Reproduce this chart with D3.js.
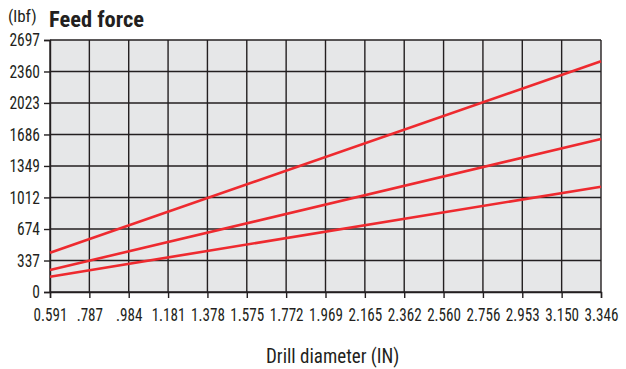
<!DOCTYPE html>
<html>
<head>
<meta charset="utf-8">
<script src="https://cdn.jsdelivr.net/npm/d3@7"></script>
<style>
  html, body { margin: 0; padding: 0; background: #fff; }
  svg { display: block; }
  text { font-family: "Liberation Sans Narrow", "Roboto Condensed", "Arial Narrow", "Liberation Sans", sans-serif; fill: #231f20; }
</style>
</head>
<body>
<svg id="chart" width="626" height="369"></svg>
<script>
// Drill diameter ticks (inches) and their printed labels
const xTicks = [0.591, 0.787, 0.984, 1.181, 1.378, 1.575, 1.772, 1.969, 2.165, 2.362, 2.560, 2.756, 2.953, 3.150, 3.346];
const xTickLabels = ["0.591", ".787", ".984", "1.181", "1.378", "1.575", "1.772", "1.969", "2.165", "2.362", "2.560", "2.756", "2.953", "3.150", "3.346"];
// Feed force ticks (lbf)
const yTicks = [0, 337, 674, 1012, 1349, 1686, 2023, 2360, 2697];

// Feed force lines: [diameter, force]
const lineHigh = [[0.591, 421], [3.346, 2470]];
const lineMid = [[0.591, 235], [3.346, 1637]];
const lineLow = [[0.591, 164], [3.346, 1127]];
const series = [lineHigh, lineMid, lineLow];

const FONT = "'Liberation Sans Narrow', 'Roboto Condensed', 'Arial Narrow', sans-serif";
const svg = d3.select("#chart");
const m = { left: 50, right: 601, top: 40, bottom: 292 };

// Squeeze text horizontally for a tighter condensed look
function condense(sel, factor) {
  sel.each(function () {
    const w = this.getComputedTextLength();
    d3.select(this).attr("textLength", w * factor).attr("lengthAdjust", "spacingAndGlyphs");
  });
}

// Ticks are evenly spaced, so position by index
const xIdx = d3.scaleLinear().domain([0, xTicks.length - 1]).range([m.left, m.right]);
const x = d3.scaleLinear().domain(xTicks).range(xTicks.map((d, i) => xIdx(i)));
const y = d3.scaleLinear().domain([0, 2697]).range([m.bottom, m.top]);

// Plot background
svg.append("rect")
  .attr("x", m.left).attr("y", m.top)
  .attr("width", m.right - m.left).attr("height", m.bottom - m.top)
  .attr("fill", "#e6e7e8");

// Grid
const grid = svg.append("g").attr("stroke", "#231f20").attr("stroke-width", 1.4);
grid.selectAll("line.v").data(xTicks).join("line")
  .attr("x1", d => x(d)).attr("x2", d => x(d))
  .attr("y1", m.top).attr("y2", m.bottom);
grid.selectAll("line.h").data(yTicks).join("line")
  .attr("x1", m.left).attr("x2", m.right)
  .attr("y1", d => y(d)).attr("y2", d => y(d));

// Axes
const yAxis = d3.axisLeft(y).tickValues(yTicks).tickSize(6).tickPadding(4).tickFormat(d3.format("d"));
const gy = svg.append("g").attr("transform", `translate(${m.left},0)`).call(yAxis);
gy.select(".domain").attr("stroke", "#231f20").attr("stroke-width", 1.4);
gy.selectAll(".tick line").attr("stroke", "#231f20").attr("stroke-width", 1.4);
gy.selectAll(".tick text").attr("font-size", 18).attr("fill", "#231f20").style("font-family", FONT)
  .call(condense, 0.86);

const xAxis = d3.axisBottom(x).tickValues(xTicks).tickSize(6).tickPadding(10)
  .tickFormat((d, i) => xTickLabels[i]);
const gx = svg.append("g").attr("transform", `translate(0,${m.bottom})`).call(xAxis);
gx.select(".domain").attr("stroke", "#231f20").attr("stroke-width", 1.4);
gx.selectAll(".tick line").attr("stroke", "#231f20").attr("stroke-width", 1.4);
gx.selectAll(".tick text").attr("font-size", 18).attr("fill", "#231f20").style("font-family", FONT)
  .call(condense, 0.84);

// Force lines
const line = d3.line().x(d => x(d[0])).y(d => y(d[1]));
svg.append("g").selectAll("path").data(series).join("path")
  .attr("d", line)
  .attr("fill", "none")
  .attr("stroke", "#ee2a2f")
  .attr("stroke-width", 2.6);

// Titles
svg.append("text").attr("x", 8).attr("y", 22).attr("font-size", 17).text("(lbf)").call(condense, 1.0);
svg.append("text").attr("x", 49).attr("y", 27).attr("font-size", 22).attr("font-weight", "bold").text("Feed force").call(condense, 1.02);
svg.append("text").attr("x", 266).attr("y", 363).attr("font-size", 20).text("Drill diameter (IN)").call(condense, 0.95);
</script>
</body>
</html>
